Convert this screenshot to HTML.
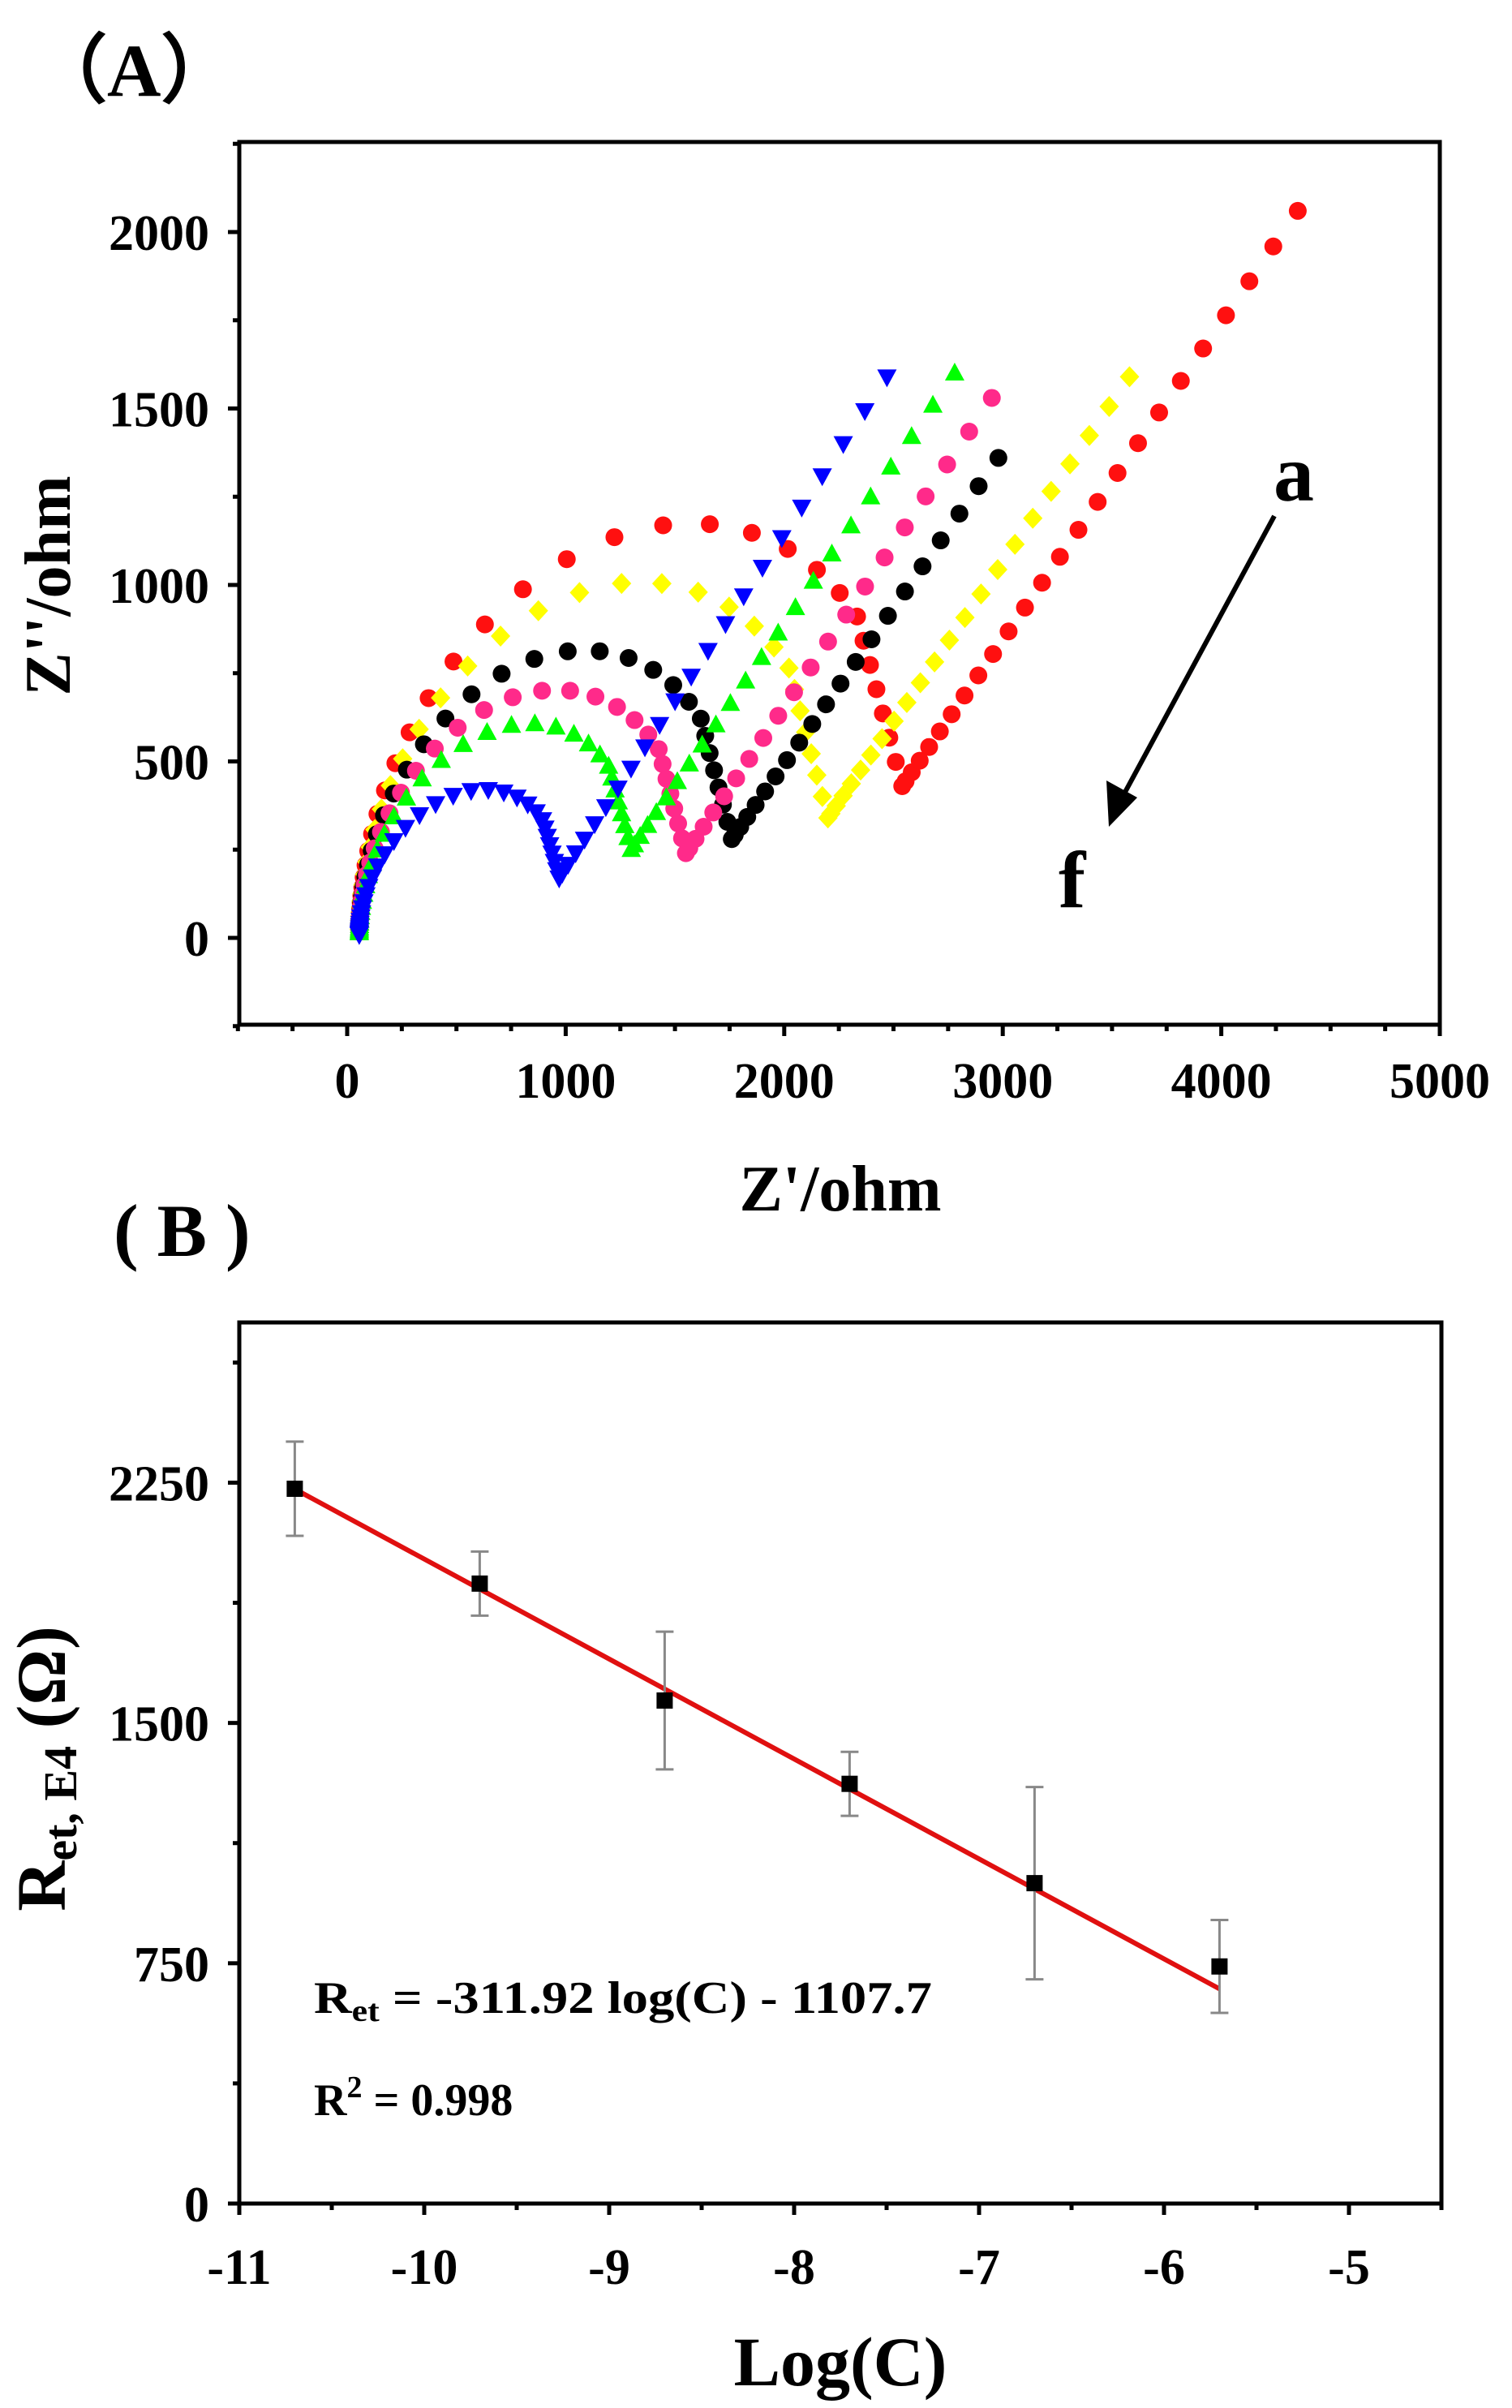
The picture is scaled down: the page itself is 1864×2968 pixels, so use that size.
<!DOCTYPE html>
<html><head><meta charset="utf-8"><style>
html,body{margin:0;padding:0;background:#fff}
svg{display:block}
svg text{font-family:'Liberation Serif','Times New Roman',Times,serif;font-weight:700;fill:#000}
</style></head><body>
<svg id="s" width="1864" height="2968" viewBox="0 0 1864 2968" xmlns="http://www.w3.org/2000/svg">
<rect width="1864" height="2968" fill="#fff"/>
<text x="40" y="118" font-size="92">（A）</text>
<text x="140" y="1548" font-size="92">( B )</text>
<g id="A"></g>
<g id="B"></g>
<rect x="295" y="175" width="1480" height="1088" fill="none" stroke="#000" stroke-width="5"/>
<line x1="1571" y1="636" x2="1385" y2="980" stroke="#000" stroke-width="6"/>
<polygon points="1367,1019 1364,962 1402,983" fill="#000"/>
<text x="1570" y="617" font-size="100">a</text>
<text x="1305" y="1118" font-size="100">f</text>
<text x="1036" y="1492" font-size="80" text-anchor="middle">Z'/ohm</text>
<text transform="translate(86,722) rotate(-90)" font-size="80" text-anchor="middle">Z''/ohm</text>
<rect x="295" y="1630" width="1482" height="1086" fill="none" stroke="#000" stroke-width="5"/>
<text x="1036" y="2940" font-size="86" text-anchor="middle">Log(C)</text>
<text transform="translate(80,2180) rotate(-90)" font-size="86" text-anchor="middle">R<tspan font-size="58" dy="14">et, E4</tspan><tspan dy="-14"> (Ω)</tspan></text>
<text x="387" y="2481" font-size="56" textLength="762" lengthAdjust="spacingAndGlyphs">R<tspan font-size="38" dy="10">et</tspan><tspan dy="-10"> = -311.92 log(C) - 1107.7</tspan></text>
<text x="387" y="2607" font-size="56">R<tspan font-size="38" dy="-22">2</tspan><tspan dy="22"> = 0.998</tspan></text>
</svg>
<script>
var NS="http://www.w3.org/2000/svg";
function el(p,t,a,txt){var e=document.createElementNS(NS,t);for(var k in a)e.setAttribute(k,a[k]);if(txt!==undefined)e.textContent=txt;p.appendChild(e);return e;}
var A=document.getElementById('A'),B=document.getElementById('B');
function ax(x){return 428+x*0.2694;} function ay(y){return 1156-y*0.435;}
for(var v=-500;v<=5000;v+=250){var X=ax(v);if(X<293||X>1777)continue;var maj=(v%1000==0);
 el(A,'line',{x1:X,y1:1263,x2:X,y2:1263+(maj?14:8),stroke:'#000','stroke-width':5});
 if(maj)el(A,'text',{x:X,y:1353,'font-size':62,'text-anchor':'middle'},v);}
for(var v=-250;v<=2250;v+=250){var Y=ay(v);var maj=(v%500==0);
 el(A,'line',{x1:295,y1:Y,x2:295-(maj?14:8),y2:Y,stroke:'#000','stroke-width':5});
 if(maj)el(A,'text',{x:258,y:Y+22,'font-size':62,'text-anchor':'end'},v);}
var S=[
 {c:'#ff1010',m:'o',xm:2540,ym:430,pk:1150,ex:4350,ey:2060,nl:24},
 {c:'#ffff00',m:'d',xm:2200,ym:340,pk:990,ex:3580,ey:1590,nl:22},
 {c:'#000000',m:'o',xm:1760,ym:280,pk:800,ex:2980,ey:1360,nl:20},
 {c:'#ff2a8a',m:'o',xm:1550,ym:240,pk:690,ex:2950,ey:1530,nl:20},
 {c:'#00ff00',m:'u',xm:1300,ym:250,pk:590,ex:2780,ey:1600,nl:22},
 {c:'#0000ff',m:'v',xm:970,ym:170,pk:410,ex:2470,ey:1590,nl:22}];
function mk(s,X,Y){
 if(s.m=='o')el(A,'circle',{cx:X,cy:Y,r:11,fill:s.c});
 else if(s.m=='d')el(A,'polygon',{points:[X,Y-13,X+12,Y,X,Y+13,X-12,Y].join(','),fill:s.c});
 else if(s.m=='u')el(A,'polygon',{points:[X,Y-13,X+12,Y+9,X-12,Y+9].join(','),fill:s.c});
 else el(A,'polygon',{points:[X,Y+13,X+12,Y-9,X-12,Y-9].join(','),fill:s.c});}
S.forEach(function(s){var Rs=55,a=(s.xm-Rs)/2,c=Rs+a;var N=30;var pk=s.pk-s.ym/2;var lx,ly;
 for(var k=0;k<=N;k++){var u=-4.2+5.4*k/N;var th=2*Math.atan(Math.exp(u));
  lx=c-a*Math.cos(th);ly=pk*Math.sin(th)+s.ym*(1-Math.cos(th))/2;mk(s,ax(lx),ay(ly));}
 var M=7;for(var k=1;k<=M;k++){var t=k/M;mk(s,ax(lx+(s.xm-lx)*t),ay(ly+(s.ym-ly)*t));}
 for(var k=1;k<=s.nl;k++){var t=Math.pow(k/s.nl,1.5);mk(s,ax(s.xm+(s.ex-s.xm)*t),ay(s.ym+(s.ey-s.ym)*t));}
});
function bx(x){return 295+(x+11)*228;} function by(y){return 2716-y*0.3949;}
for(var v=-11;v<=-4.5;v+=0.5){var X=bx(v);var maj=(Math.abs(v-Math.round(v))<1e-6);
 el(B,'line',{x1:X,y1:2716,x2:X,y2:2716+(maj?14:8),stroke:'#000','stroke-width':5});
 if(maj)el(B,'text',{x:X,y:2815,'font-size':62,'text-anchor':'middle'},v);}
for(var v=0;v<=2625;v+=375){var Y=by(v);var maj=(v%750==0);
 el(B,'line',{x1:295,y1:Y,x2:295-(maj?14:8),y2:Y,stroke:'#000','stroke-width':5});
 if(maj)el(B,'text',{x:258,y:Y+22,'font-size':62,'text-anchor':'end'},v);}
el(B,'line',{x1:bx(-10.7),y1:by(2230),x2:bx(-5.7),y2:by(670),stroke:'#e01010','stroke-width':6});
var D=[[-10.7,2231,147],[-9.7,1935,100],[-8.7,1570,215],[-7.7,1310,100],[-6.7,1000,300],[-5.7,740,145]];
D.forEach(function(d){var X=bx(d[0]);
 el(B,'line',{x1:X,y1:by(d[1]-d[2]),x2:X,y2:by(d[1]+d[2]),stroke:'#888','stroke-width':3});
 el(B,'line',{x1:X-11,y1:by(d[1]-d[2]),x2:X+11,y2:by(d[1]-d[2]),stroke:'#888','stroke-width':3});
 el(B,'line',{x1:X-11,y1:by(d[1]+d[2]),x2:X+11,y2:by(d[1]+d[2]),stroke:'#888','stroke-width':3});
 el(B,'rect',{x:X-10,y:by(d[1])-10,width:20,height:20,fill:'#000'});});
</script>
</body></html>
